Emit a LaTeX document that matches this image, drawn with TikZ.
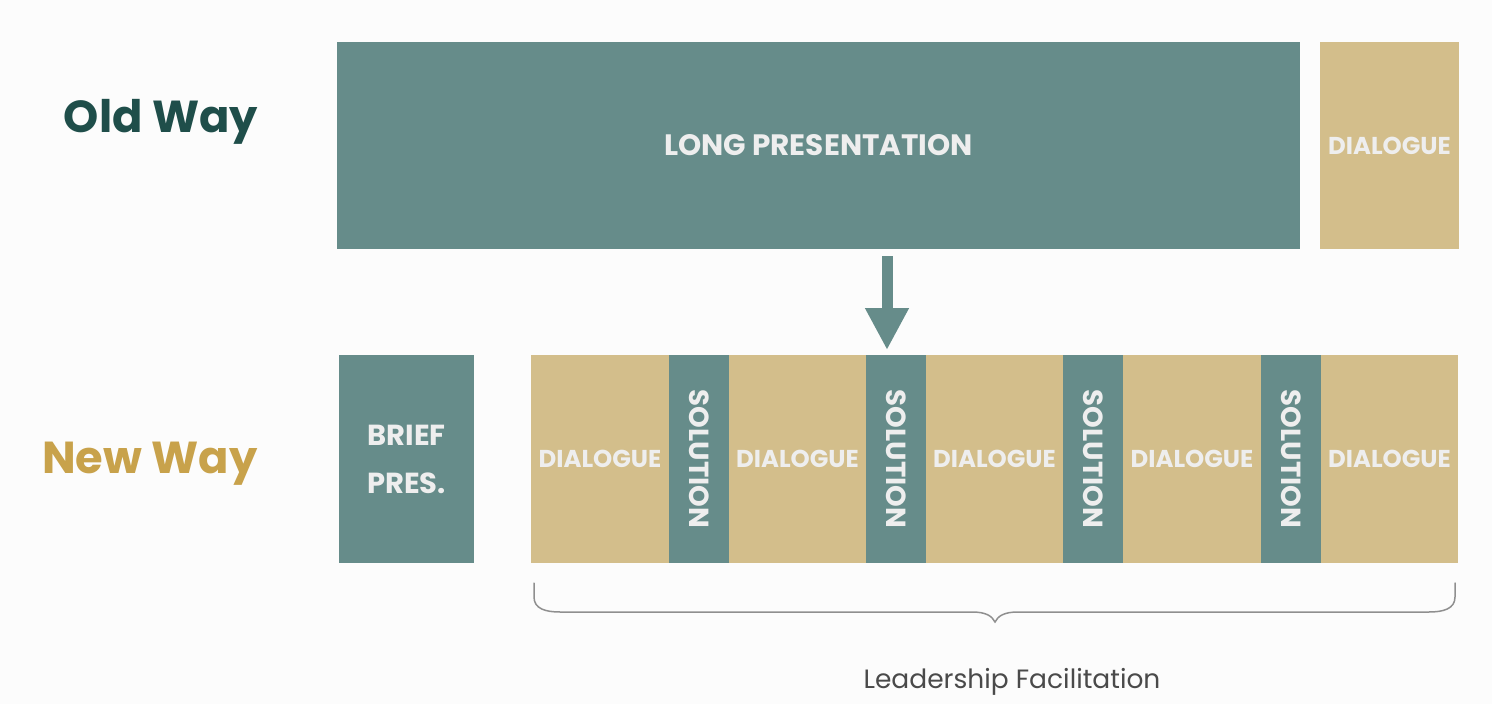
\documentclass[tikz,border=0pt]{standalone}
\usepackage{fontspec}
\setmainfont{Poppins}
\usetikzlibrary{arrows.meta}
\definecolor{teal}{HTML}{668C8A}
\definecolor{sand}{HTML}{D3BE8B}
\definecolor{boxtext}{HTML}{EEEEEE}
\definecolor{oldcol}{HTML}{1F4E4A}
\definecolor{newcol}{HTML}{C8A24B}
\definecolor{bracecol}{HTML}{8F8F8F}
\definecolor{capcol}{HTML}{4A4A4A}
\begin{document}
\begin{tikzpicture}[
  x=1pt, y=-1pt,
  block/.style={rectangle, anchor=north west, inner sep=0pt, outer sep=0pt,
    minimum height=207pt, text=boxtext, align=center,
    font=\fontsize{24.4}{28}\selectfont\bfseries},
  talk/.style={block, fill=sand, minimum width=138pt},
  fix/.style={block, fill=teal, minimum width=60pt,
    font=\fontsize{27.6}{30}\selectfont\bfseries, rotate=-90, anchor=south west},
  way/.style={font=\fontsize{44.8}{50}\selectfont\bfseries, anchor=base, inner sep=0pt},
  bigarrow/.style={draw=teal, line width=11pt, -{Triangle[width=41pt,length=42pt]}},
  brace/.style={draw=bracecol, line width=1.5pt, line cap=round}
]
\fill[white!99!black] (0,0) rectangle (1492,704);
\useasboundingbox (0,0) rectangle (1492,704);

% old way
\node[way, text=oldcol] (old) at (161,132) {Old Way};
\node[block, fill=teal, minimum width=963pt,
  font=\fontsize{29.5}{32}\selectfont\bfseries] (lp) at (337,42) {LONG PRESENTATION};
\node[talk, minimum width=139pt] (d0) at (1320,42) {DIALOGUE};

% new way
\node[way, text=newcol] (new) at (150,473) {New Way};
\node[block, fill=teal, minimum width=135pt, minimum height=208pt,
  font=\fontsize{29}{48}\selectfont\bfseries] (brief) at (339,355) {BRIEF\\PRES.};
\node[talk, minimum height=208pt] (d1) at (531,355) {DIALOGUE};
\node[fix, minimum height=60pt, minimum width=208pt] (s1) at (669,355) {SOLUTION};
\node[talk, minimum height=208pt, minimum width=137pt] (d2) at (729,355) {DIALOGUE};
\node[fix, minimum height=60pt, minimum width=208pt] (s2) at (866,355) {SOLUTION};
\node[talk, minimum height=208pt, minimum width=137pt] (d3) at (926,355) {DIALOGUE};
\node[fix, minimum height=60pt, minimum width=208pt] (s3) at (1063,355) {SOLUTION};
\node[talk, minimum height=208pt] (d4) at (1123,355) {DIALOGUE};
\node[fix, minimum height=60pt, minimum width=208pt] (s4) at (1261,355) {SOLUTION};
\node[talk, minimum height=208pt, minimum width=137pt] (d5) at (1321,355) {DIALOGUE};

% old -> new
\coordinate (ax) at (887,0);
\draw[bigarrow] ([yshift=-7pt]lp.south -| ax) -- ([yshift=5pt]d2.north east -| ax);

% brace under the facilitation part
\draw[brace] (534,583) -- (534,597) .. controls (534,609) and (546,612) .. (560,612)
  -- (972,612) .. controls (986,612) and (992,616) .. (995,622)
  .. controls (998,616) and (1004,612) .. (1018,612) -- (1429,612)
  .. controls (1443,612) and (1455,609) .. (1455,597) -- (1455,583);
\node[font=\fontsize{26.5}{30}\selectfont, text=capcol, anchor=base] (lf) at (1012,688) {Leadership Facilitation};
\end{tikzpicture}
\end{document}
